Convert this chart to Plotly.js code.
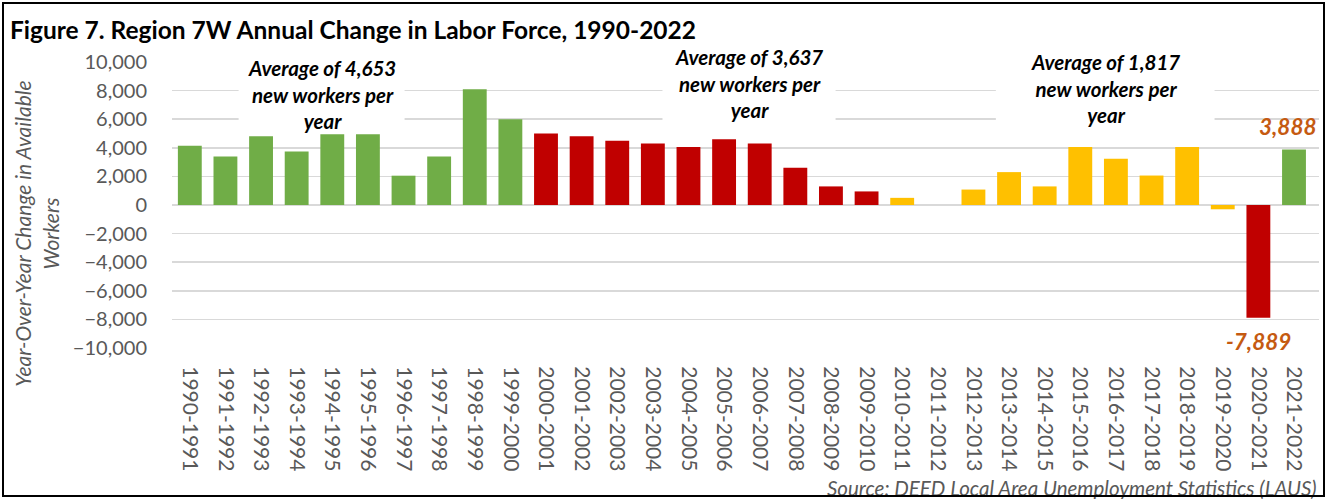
<!DOCTYPE html>
<html><head><meta charset="utf-8">
<script src="https://cdn.plot.ly/plotly-3.0.1.min.js"></script>
<style>
html,body{margin:0;padding:0;background:#fff;}
#chart{position:absolute;left:0;top:0;width:1327px;height:499px;}
#frame{position:absolute;left:2px;top:2px;width:1319px;height:491px;border:2px solid #000;pointer-events:none;}
</style></head><body>
<div id="chart"></div><div id="frame"></div>
<script>
const periods = ["1990-1991","1991-1992","1992-1993","1993-1994","1994-1995","1995-1996","1996-1997","1997-1998","1998-1999","1999-2000",
  "2000-2001","2001-2002","2002-2003","2003-2004","2004-2005","2005-2006","2006-2007","2007-2008","2008-2009","2009-2010",
  "2010-2011","2011-2012","2012-2013","2013-2014","2014-2015","2015-2016","2016-2017","2017-2018","2018-2019","2019-2020",
  "2020-2021","2021-2022"];
const laborForceChange = [4150,3400,4800,3750,4950,4950,2050,3400,8100,6000,
  5000,4800,4500,4300,4050,4600,4300,2600,1300,950,
  500,0,1080,2300,1300,4050,3230,2060,4050,-300,
  -7889,3888];
const averageTexts = ["Average of 4,653<br>new workers per<br>year","Average of 3,637<br>new workers per<br>year","Average of 1,817<br>new workers per<br>year"];
const averageAt = [3.7, 15.7, 25.7];
const labelledPeriods = ["2020-2021","2021-2022"];

const GREEN="#70AD47", RED="#C00000", GOLD="#FFC000";
const colors = periods.map(p=>{
  const y=parseInt(p.slice(0,4),10);
  if(y===2020) return RED;
  if(y===2021) return GREEN;
  if(y<2000) return GREEN;
  if(y<2010) return RED;
  return GOLD;
});

const FONT="Lato, 'Open Sans', sans-serif";
const annotations = [];
const shapes = [];
const boxY = [7740,8490,8140];
const boxHalf = [2.33,2.43,3.07];
const boxBottom = [5100,5100,5100];
averageTexts.forEach((t,i)=>{
  shapes.push({type:'rect',layer:'between',xref:'x',yref:'y',x0:averageAt[i]-boxHalf[i],x1:averageAt[i]+boxHalf[i],
    y0:boxBottom[i],y1:10400,fillcolor:'#ffffff',line:{width:0}});
  annotations.push({xref:'x',yref:'y',x:averageAt[i],y:boxY[i],text:t,showarrow:false,
    xanchor:'center',yanchor:'middle',align:'center',
    font:{family:FONT,size:20.5,color:'#000',weight:700,style:'italic'}});
});
labelledPeriods.forEach(p=>{
  const v=laborForceChange[periods.indexOf(p)];
  annotations.push({xref:'x',yref:'y',x:p,y:v,text:v.toLocaleString('en-US'),showarrow:false,
    xanchor:'center',yanchor:v<0?'top':'bottom',yshift:v<0?-8:7,xshift:v<0?0:-6,
    font:{family:FONT,size:22.5,color:'#C55A11',weight:700,style:'italic'}});
});
annotations.push({xref:'paper',yref:'paper',x:-0.1185,y:0.40,text:"Year-Over-Year Change in Available<br>Workers",
  textangle:-90,showarrow:false,xanchor:'center',yanchor:'middle',align:'center',
  font:{family:FONT,size:21,color:'#595959',style:'italic'}});
annotations.push({xref:'paper',yref:'paper',x:1.0,y:-0.49,text:"Source: DEED Local Area Unemployment Statistics (LAUS)",
  showarrow:false,xanchor:'right',yanchor:'middle',
  font:{family:FONT,size:20.5,color:'#595959',style:'italic'}});

Plotly.newPlot('chart',[{
  type:'bar',x:periods,y:laborForceChange,marker:{color:colors},hoverinfo:'x+y'
}],{
  width:1327,height:499,
  margin:{l:172,r:8,t:62,b:151},
  paper_bgcolor:'#fff',plot_bgcolor:'#fff',
  bargap:0.33,showlegend:false,
  title:{text:"Figure 7. Region 7W Annual Change in Labor Force, 1990-2022",xref:'container',yref:'container',
    x:0.0075,xanchor:'left',y:0.94,yanchor:'middle',font:{family:FONT,size:24.5,color:'#000',weight:700}},
  xaxis:{type:'category',tickangle:90,tickfont:{family:FONT,size:21,color:'#595959'},
    ticks:'outside',ticklen:13,tickcolor:'rgba(0,0,0,0)',showline:false,showgrid:false,automargin:false},
  yaxis:{range:[-10000,10000],dtick:2000,tickformat:',d',tickfont:{family:FONT,size:20,color:'#595959'},
    ticks:'outside',ticklen:20,tickcolor:'rgba(0,0,0,0)',
    showgrid:true,gridcolor:'#D9D9D9',gridwidth:1.5,zeroline:true,zerolinecolor:'#D9D9D9',zerolinewidth:2,
    showline:false,automargin:false},
  shapes:shapes,
  annotations:annotations
},{displayModeBar:false,staticPlot:true});
</script>
</body></html>
